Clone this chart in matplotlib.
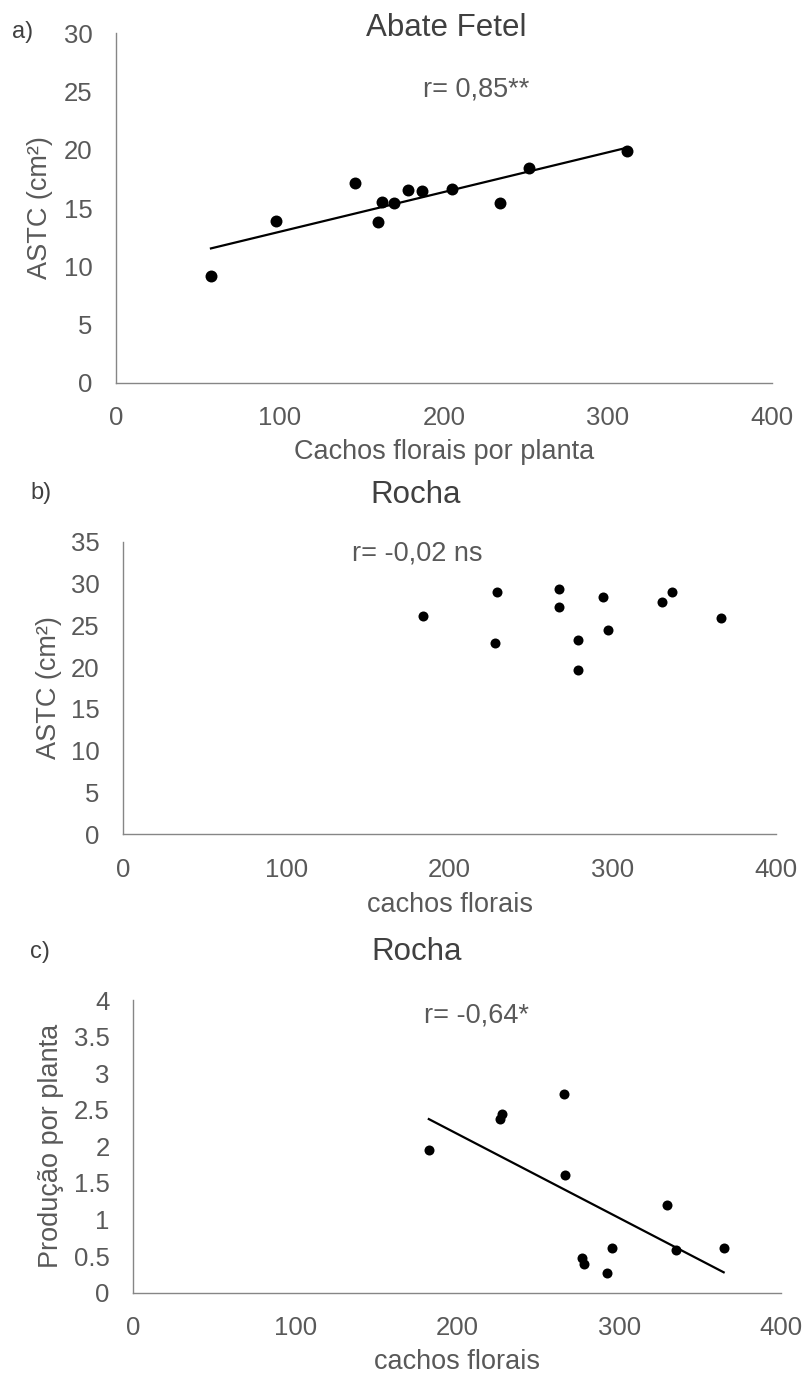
import numpy as np
import matplotlib
matplotlib.use('Agg')
import matplotlib.pyplot as plt
from matplotlib.ticker import FuncFormatter

# a) Abate Fetel
abate_cachos = [57.9, 97.6, 145.5, 159.8, 162.2, 169.7, 178.2, 186.3, 204.6, 234.3, 251.8, 311.7]
abate_astc = [9.19, 13.91, 17.12, 13.82, 15.51, 15.40, 16.55, 16.43, 16.63, 15.40, 18.41, 19.92]

# b) Rocha - ASTC
rocha_cachos_b = [183.4, 229.2, 227.6, 267.0, 267.0, 294.1, 278.4, 278.4, 296.8, 330.3, 336.4, 366.0]
rocha_astc = [26.15, 29.0, 22.9, 29.4, 27.2, 28.4, 23.3, 19.65, 24.4, 27.75, 28.95, 25.9]

# c) Rocha - producao
rocha_cachos_c = [182.5, 227.8, 226.4, 265.9, 266.7, 329.3, 277.4, 278.2, 295.7, 292.6, 335.4, 364.6]
rocha_prod = [1.95, 2.44, 2.37, 2.71, 1.61, 1.20, 0.48, 0.39, 0.61, 0.27, 0.58, 0.61]

plt.rcParams['font.family'] = ['Liberation Sans', 'DejaVu Sans']

W, H = 803, 1376
fig = plt.figure(figsize=(W / 100, H / 100), dpi=100)

tick_col = '#595959'
title_col = '#404040'
spine_col = '#868686'


def px(x, y):
    return x / W, 1 - y / H


def setup(ax, xmax, ymax, ystep):
    for s in ['top', 'right']:
        ax.spines[s].set_visible(False)
    for s in ['left', 'bottom']:
        ax.spines[s].set_color(spine_col)
        ax.spines[s].set_linewidth(1.0)
    ax.set_xlim(0, xmax)
    ax.set_ylim(0, ymax)
    ax.set_xticks(np.arange(0, xmax + 1, 100))
    ax.set_yticks(np.arange(0, ymax + ystep / 2, ystep))
    ax.yaxis.set_major_formatter(FuncFormatter(lambda v, p: '{:g}'.format(v)))
    ax.tick_params(length=0, pad=17, labelsize=18.5, labelcolor=tick_col)


def trend(ax, x, y):
    k, b = np.polyfit(x, y, 1)
    xs = np.array([min(x), max(x)])
    ax.plot(xs, k * xs + b, color='black', lw=1.6, zorder=2)


# panel a
ax1 = fig.add_axes([116 / W, 1 - 382.7 / H, 656 / W, 349.4 / H])
setup(ax1, 400, 30, 5)
trend(ax1, abate_cachos, abate_astc)
ax1.scatter(abate_cachos, abate_astc, s=74, color='black', zorder=3, linewidths=0)
ax1.set_xlabel('Cachos florais por planta', fontsize=19.5, color=tick_col, va='center')
ax1.xaxis.set_label_coords(0.5, -(452 - 382.7) / 349.4)
ax1.set_ylabel('ASTC (cm²)', fontsize=19.5, color=tick_col, va='center')
ax1.yaxis.set_label_coords((40 - 116) / 656, 0.5)

# panel b
ax2 = fig.add_axes([123.3 / W, 1 - 834.3 / H, 652.7 / W, 292.6 / H])
setup(ax2, 400, 35, 5)
ax2.scatter(rocha_cachos_b, rocha_astc, s=52, color='black', zorder=3, linewidths=0)
ax2.set_xlabel('cachos florais', fontsize=19.5, color=tick_col, va='center')
ax2.xaxis.set_label_coords(0.5, -(905 - 834.3) / 292.6)
ax2.set_ylabel('ASTC (cm²)', fontsize=19.5, color=tick_col, va='center')
ax2.yaxis.set_label_coords((49 - 123.3) / 652.7, 0.5)

# panel c
ax3 = fig.add_axes([133.3 / W, 1 - 1292.7 / H, 647.7 / W, 292.7 / H])
setup(ax3, 400, 4, 0.5)
trend(ax3, rocha_cachos_c, rocha_prod)
ax3.scatter(rocha_cachos_c, rocha_prod, s=52, color='black', zorder=3, linewidths=0)
ax3.set_xlabel('cachos florais', fontsize=19.5, color=tick_col, va='center')
ax3.xaxis.set_label_coords(0.5, -(1361.7 - 1292.7) / 292.7)
ax3.set_ylabel('Produção por planta', fontsize=19.5, color=tick_col, va='center')
ax3.yaxis.set_label_coords((51 - 133.3) / 647.7, 0.5)

# titles, panel letters, r values
texts = [
    ('Abate Fetel', 446, 28, 22.5, title_col),
    ('Rocha', 416, 495, 22.5, title_col),
    ('Rocha', 417, 952, 22.5, title_col),
    ('a)', 23, 32, 17, title_col),
    ('b)', 41, 493, 17, title_col),
    ('c)', 40, 952, 17, title_col),
    ('r= 0,85**', 476, 89, 19.5, tick_col),
    ('r= -0,02 ns', 417, 553, 19.5, tick_col),
    ('r= -0,64*', 477, 1015, 19.5, tick_col),
]
for t, x, y, fs, c in texts:
    fx, fy = px(x, y)
    fig.text(fx, fy, t, fontsize=fs, color=c, ha='center', va='center')

fig.savefig('out.png', dpi=100)
